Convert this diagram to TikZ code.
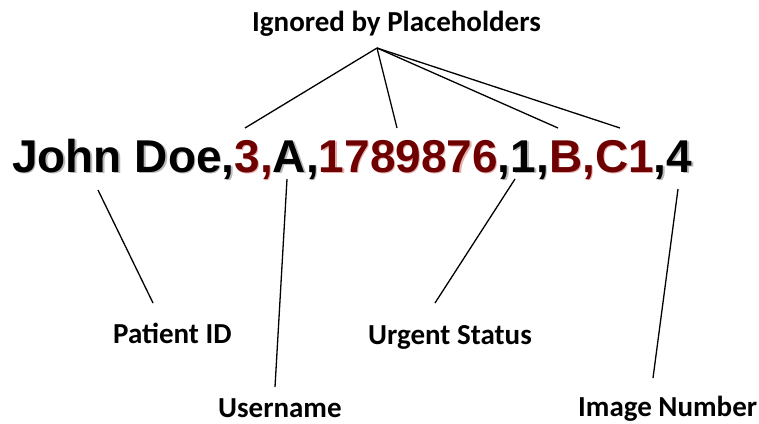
\documentclass[tikz,border=0pt]{standalone}
\usepackage{fontspec}
\setmainfont{Carlito}
\newfontfamily\mainsans{Liberation Sans}
\usepackage{xcolor}
\definecolor{darkred}{RGB}{110,0,0}
\definecolor{shadowred}{RGB}{230,175,175}
\definecolor{shadowgray}{RGB}{185,185,185}
\tikzset{
  lbl/.style={inner sep=0pt, anchor=base west, font=\fontsize{29}{34}\selectfont\bfseries},
  big/.style={inner sep=0pt, anchor=base west, font=\fontsize{46}{52}\selectfont\mainsans\bfseries},
  conn/.style={line width=1.3pt, black}
}
\newcommand{\maintext}[2]{#1{John Doe,}\textcolor{#2}{3,}#1{A,}\textcolor{#2}{1789876}#1{,1,}\textcolor{#2}{B,C1}#1{,4}}
\newcommand{\blk}[1]{#1}
\newcommand{\gry}[1]{\textcolor{shadowgray}{#1}}
\begin{document}
\begin{tikzpicture}[x=1pt,y=1pt]
\useasboundingbox (0,0) rectangle (759,-423);
% main text with soft shadow
\node[big] (shadow) at (13.3,-173.3) {\maintext{\gry}{shadowred}};
\node[big] (record) at (12,-172) {\maintext{\blk}{darkred}};
% labels
\node[lbl] (ign) at (252,-31) {Ignored by Placeholders};
\node[lbl] (pid) at (113,-343) {Patient ID};
\node[lbl] (user) at (218,-417) {Username};
\node[lbl] (urg) at (368,-344) {Urgent Status};
\node[lbl] (img) at (578,-416.5) {Image Number};
% connector end points
\coordinate (hub) at (377,-48);
\coordinate (t3) at (245,-128);
\coordinate (t17) at (397,-128);
\coordinate (tB) at (558,-128);
\coordinate (tC) at (620,-128);
\coordinate (pidA) at (98,-190);
\coordinate (pidB) at (153,-303);
\coordinate (userA) at (287,-179);
\coordinate (userB) at (275,-387);
\coordinate (urgA) at (515,-179);
\coordinate (urgB) at (435,-303);
\coordinate (imgA) at (678,-189);
\coordinate (imgB) at (653,-378);
% connectors
\draw[conn] (hub) -- (t3);
\draw[conn] (hub) -- (t17);
\draw[conn] (hub) -- (tB);
\draw[conn] (hub) -- (tC);
\draw[conn] (pidA) -- (pidB);
\draw[conn] (userA) -- (userB);
\draw[conn] (urgA) -- (urgB);
\draw[conn] (imgA) -- (imgB);
\end{tikzpicture}
\end{document}
